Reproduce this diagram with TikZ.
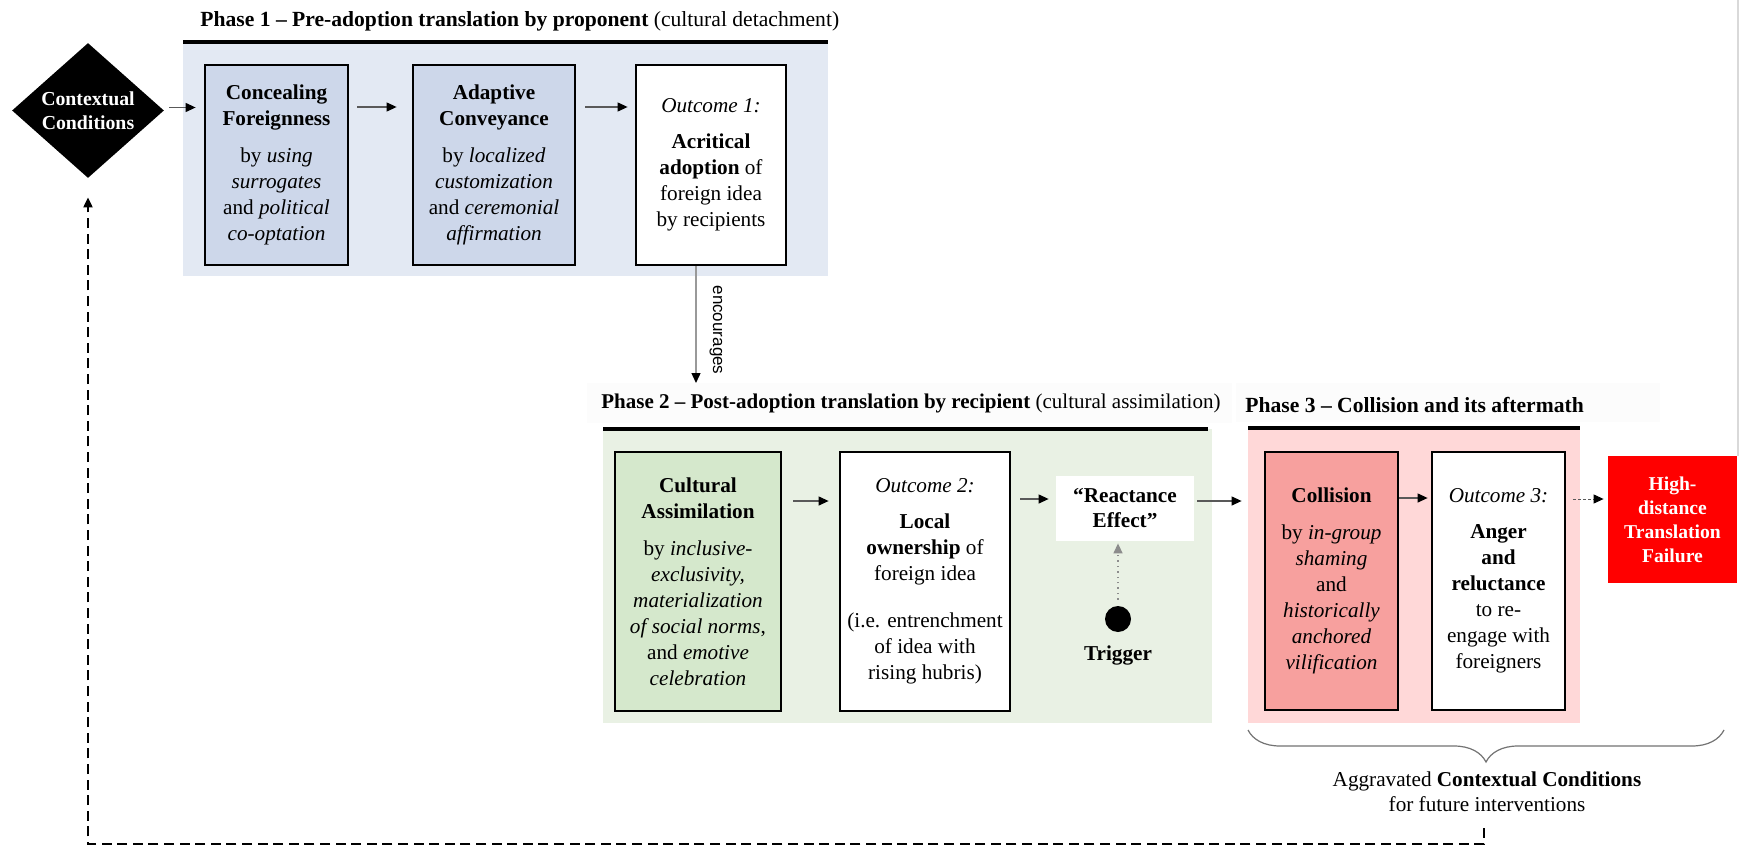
\documentclass[tikz,border=0pt]{standalone}
\usepackage{fontspec}
\setmainfont{Liberation Serif}
\newfontfamily\encfont{Liberation Sans}
\usetikzlibrary{arrows.meta,shapes.geometric,decorations.pathreplacing}
\definecolor{pAbg}{HTML}{E3E9F3}
\definecolor{pAbox}{HTML}{CDD7EA}
\definecolor{pBbg}{HTML}{E9F1E4}
\definecolor{pBbox}{HTML}{D5E8CC}
\definecolor{pCbg}{HTML}{FFD8D8}
\definecolor{pCbox}{HTML}{F7A09E}
\definecolor{failred}{HTML}{FF0000}
\definecolor{faint}{HTML}{FCFCFC}
\begin{document}
\begin{tikzpicture}[x=0.5pt,y=-0.5pt,
  box/.style={draw=black, line width=1.4pt, align=center, inner sep=0pt,
    font=\fontsize{10.6}{13}\selectfont},
  ttl/.style={anchor=west, inner sep=0pt, font=\fontsize{10.8}{13}\selectfont},
  arr/.style={draw=black!65, line width=0.6pt, -{Triangle[length=5pt,width=4.5pt,black]}},
  garr/.style={draw=black!45, line width=0.7pt, dotted, -{Triangle[length=5pt,width=4.5pt,black!45]}},
  darr/.style={draw=black!65, line width=0.5pt, dash pattern=on 1.5pt off 1pt, -{Triangle[length=5pt,width=4.5pt,black]}},
  fb/.style={draw=black, line width=1pt, dash pattern=on 5pt off 2.8pt, -{Triangle[length=5pt,width=4.5pt]}}
]
\useasboundingbox (0,0) rectangle (1742,851);
\fill[white] (0,0) rectangle (1742,851);
\draw[black!15, line width=0.6pt] (1738,0) -- (1738,456);

% faint title backgrounds
\fill[faint] (587,383) rectangle (1232,423);
\fill[faint] (1236,383) rectangle (1660,422);

% Phase backgrounds
\fill[pAbg] (183,42) rectangle (828,276);
\draw[line width=1.6pt] (183,42) -- (828,42);
\fill[pBbg] (603,429) rectangle (1212,723);
\draw[line width=1.6pt] (603,429) -- (1208,429);
\fill[pCbg] (1248,428) rectangle (1580,723);
\draw[line width=1.6pt] (1248,428) -- (1580,428);

% Titles
\node[ttl] (t1) at (200,21) {\textbf{Phase 1 – Pre-adoption translation by proponent} (cultural detachment)};
\node[ttl, font=\fontsize{10.5}{13}\selectfont] (t2) at (601,403) {\textbf{Phase 2 – Post-adoption translation by recipient} (cultural assimilation)};
\node[ttl] (t3) at (1245,405) {\textbf{Phase 3 – Collision and its aftermath}};

% Diamond
\node[diamond, fill=black, aspect=1.13, inner sep=0pt, minimum width=76pt, minimum height=67.5pt,
  text=white, align=center, font=\fontsize{9.9}{12}\selectfont\bfseries] (ctx) at (88,110.5)
  {Contextual\\Conditions};

% Phase 1 boxes
\node[box, fill=pAbox, minimum width=71.5pt, minimum height=100pt] (conceal) at (276.5,165)
  {\textbf{Concealing}\\\textbf{Foreignness}\\[5.5pt]by \textit{using}\\\textit{surrogates}\\and \textit{political}\\\textit{co-optation}};
\node[box, fill=pAbox, minimum width=81pt, minimum height=100pt] (adapt) at (494,165)
  {\textbf{Adaptive}\\\textbf{Conveyance}\\[5.5pt]by \textit{localized}\\\textit{customization}\\and \textit{ceremonial}\\\textit{affirmation}};
\node[box, fill=white, minimum width=75pt, minimum height=100pt] (out1) at (711,165)
  {\textit{Outcome 1:}\\[5pt]\textbf{Acritical}\\\textbf{adoption} of\\foreign idea\\by recipients};

\draw[arr, shorten <=2.5pt, shorten >=4pt] ([yshift=1.5pt]ctx.east) -- ([yshift=1.5pt]ctx.east -| conceal.west);
\draw[arr, shorten <=4pt, shorten >=7.5pt] ([yshift=29pt]conceal.east) -- ([yshift=29pt]adapt.west);
\draw[arr, shorten <=4.5pt, shorten >=3.5pt] ([yshift=29pt]adapt.east) -- ([yshift=29pt]out1.west);

% encourages
\coordinate (encend) at (696,383);
\draw[draw=black!40, line width=0.7pt, -{Triangle[length=5pt,width=4.5pt,black]}] ([xshift=-7.5pt]out1.south) -- (encend);
\node[rotate=-90, inner sep=0pt, font=\encfont\fontsize{8.5}{10}\selectfont] (enc) at (716,330) {encourages};

% Phase 2 boxes
\node[box, fill=pBbox, minimum width=83pt, minimum height=129.5pt] (cult) at (698,581.5)
  {\textbf{Cultural}\\\textbf{Assimilation}\\[5.5pt]by \textit{inclusive-}\\\textit{exclusivity,}\\\textit{materialization}\\\textit{of social norms},\\and \textit{emotive}\\\textit{celebration}};
\node[box, fill=white, minimum width=85pt, minimum height=129.5pt] (out2) at (925,581.5)
  {\textit{Outcome 2:}\\[5pt]\textbf{Local}\\\textbf{ownership} of\\foreign idea\\[10.5pt](i.e. entrenchment\\of idea with\\rising hubris)};
\node[fill=white, align=center, inner sep=0pt, minimum width=69pt, minimum height=32.5pt,
  font=\fontsize{10.6}{12.5}\selectfont\bfseries] (react) at (1125,508.5) {“Reactance\\Effect”};
\node[circle, fill=black, inner sep=0pt, minimum size=13pt] (dot) at (1118,619) {};
\node[inner sep=0pt, font=\fontsize{10.6}{13}\selectfont\bfseries] (trig) at (1118,655) {Trigger};

\draw[arr, shorten <=5.5pt, shorten >=5pt] ([yshift=40.25pt]cult.east) -- ([yshift=40.25pt]out2.west);
\draw[arr, shorten <=4.5pt, shorten >=3.5pt] ([yshift=41.25pt]out2.east) -- ([yshift=41.25pt]out2.east -| react.west);
\draw[garr, shorten <=3pt, shorten >=1pt] (dot.north) -- (dot.north |- react.south);

% Phase 3 boxes
\node[box, fill=pCbox, minimum width=66.5pt, minimum height=129pt] (coll) at (1331.5,581)
  {\textbf{Collision}\\[5.5pt]by \textit{in-group}\\\textit{shaming}\\and\\\textit{historically}\\\textit{anchored}\\\textit{vilification}};
\node[box, fill=white, minimum width=66.5pt, minimum height=129pt] (out3) at (1498.5,581)
  {\textit{Outcome 3:}\\[5pt]\textbf{Anger}\\\textbf{and}\\\textbf{reluctance}\\to re-\\engage with\\foreigners};
\node[fill=failred, text=white, align=center, inner sep=0pt, minimum width=64.5pt, minimum height=63.5pt,
  font=\fontsize{9.8}{12}\selectfont\bfseries] (fail) at (1672.5,519.5) {High-\\distance\\Translation\\Failure};

\draw[arr, shorten <=1.5pt, shorten >=11pt] ([yshift=3.75pt]react.east) -- ([yshift=3.75pt]react.east -| coll.west);
\draw[arr, shorten >=1.5pt] ([yshift=41.5pt]coll.east) -- ([yshift=41.5pt]out3.west);
\draw[darr, shorten <=3.5pt, shorten >=2pt] ([yshift=41pt]out3.east) -- ([yshift=41pt]out3.east -| fail.west);

% Brace
\coordinate (brL) at (1248,730);
\coordinate (brR) at (1724,730);
\draw[draw=black!55, line width=0.6pt, decorate, decoration={brace, mirror, amplitude=16pt}] (brL) -- (brR);
\node[align=center, inner sep=0pt, font=\fontsize{10.6}{12.5}\selectfont] (aggr) at (1487,791.5)
  {Aggravated \textbf{Contextual Conditions}\\for future interventions};

% Feedback
\coordinate (fbstart) at (1484,828);
\draw[fb, shorten >=9.5pt] (fbstart) -- ++(0,16) -| (ctx.south);
\end{tikzpicture}
\end{document}
